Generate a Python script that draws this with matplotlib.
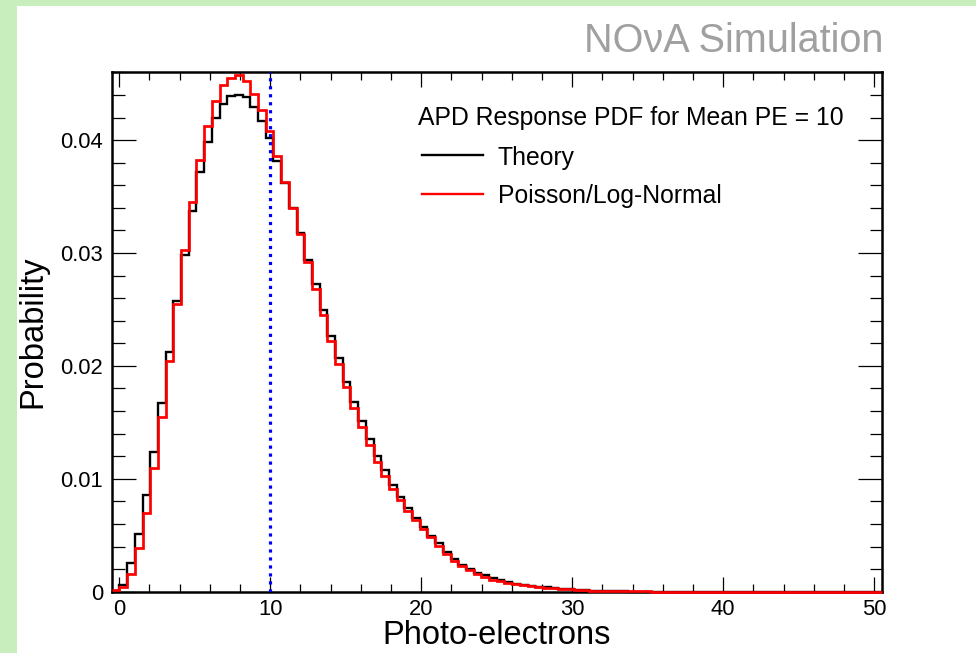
import numpy as np
import matplotlib
matplotlib.use("Agg")
import matplotlib.pyplot as plt
from matplotlib.ticker import MultipleLocator, FixedLocator, FixedFormatter
from matplotlib.patches import Rectangle
from matplotlib.lines import Line2D

plt.rcParams['font.family'] = ['Liberation Sans', 'DejaVu Sans']

# ---------------- data ----------------
x_low, x_high, n_bins = -0.5, 50.5, 100
mean_pe = 10

theory = [
    0.0001, 0.0006, 0.00257, 0.00512, 0.00857, 0.0124, 0.01674, 0.0212, 0.02575, 0.02982,
    0.03375, 0.0372, 0.0398, 0.04193, 0.0432, 0.04393, 0.04398, 0.04379, 0.0429, 0.04172,
    0.04016, 0.03818, 0.0362, 0.034, 0.0318, 0.02938, 0.02725, 0.02495, 0.02268, 0.02067,
    0.0186, 0.01683, 0.01512, 0.01353, 0.01202, 0.01078, 0.00945, 0.00836, 0.00739, 0.0065,
    0.0057, 0.00496, 0.00434, 0.00354, 0.0029, 0.0024, 0.00205, 0.0017, 0.00145, 0.0012,
    0.00102, 0.00085, 0.00072, 0.00062, 0.00052, 0.00045, 0.00038, 0.00031, 0.00026, 0.00021,
    0.00017, 0.00013, 0.0001, 0.00007, 0.00005, 0.00003, 0.00002, 0.00001, 0, 0,
    0, 0, 0, 0, 0, 0, 0, 0, 0, 0,
    0, 0, 0, 0, 0, 0, 0, 0, 0, 0,
    0, 0, 0, 0, 0, 0, 0, 0, 0, 0,
]

poisson_lognormal = [
    0.00015, 0.0004, 0.00155, 0.00384, 0.0070, 0.01093, 0.0155, 0.02043, 0.02545, 0.03027,
    0.03454, 0.0382, 0.04125, 0.04349, 0.04488, 0.04553, 0.04577, 0.04523, 0.04406, 0.04264,
    0.0408, 0.03859, 0.03632, 0.03396, 0.03165, 0.02923, 0.02678, 0.02451, 0.02223, 0.02017,
    0.01816, 0.01624, 0.01456, 0.0130, 0.01151, 0.01025, 0.00907, 0.00808, 0.00712, 0.00632,
    0.00553, 0.00482, 0.00405, 0.00338, 0.00275, 0.00225, 0.00188, 0.00155, 0.0013, 0.00108,
    0.00092, 0.00078, 0.00066, 0.00057, 0.00049, 0.00042, 0.00035, 0.00029, 0.00024, 0.0002,
    0.00016, 0.00013, 0.0001, 0.00008, 0.00006, 0.00005, 0.00004, 0.00003, 0.00002, 0.00002,
    0.00001, 0, 0, 0, 0, 0, 0, 0, 0, 0,
    0, 0, 0, 0, 0, 0, 0, 0, 0, 0,
    0, 0, 0, 0, 0, 0, 0, 0, 0, 0,
]

series_labels = ["Theory", "Poisson/Log-Normal"]
legend_header = "APD Response PDF for Mean PE = 10"
x_title = "Photo-electrons"
y_title = "Probability"
corner_label = "NO\u03bdA Simulation"

xticks = [0, 10, 20, 30, 40, 50]
xtick_labels = ["0", "10", "20", "30", "40", "50"]
yticks = [0, 0.01, 0.02, 0.03, 0.04]
ytick_labels = ["0", "0.01", "0.02", "0.03", "0.04"]
y_max = 0.04606

# ---------------- figure ----------------
W, H = 976, 653
fig = plt.figure(figsize=(W / 100, H / 100), dpi=100, facecolor="white")

green = "#c8eebe"
fig.patches.append(Rectangle((0, 0), 17 / W, 1, transform=fig.transFigure,
                             facecolor=green, edgecolor="none", zorder=0))
fig.patches.append(Rectangle((0, 1 - 5.5 / H), 1, 5.5 / H, transform=fig.transFigure,
                             facecolor=green, edgecolor="none", zorder=0))

left, right, top, bottom = 111.7, 881.7, 71.7, 591.7
ax = fig.add_axes([left / W, 1 - bottom / H, (right - left) / W, (bottom - top) / H])
ax.set_facecolor("none")

edges = np.linspace(x_low, x_high, n_bins + 1)
ax.stairs(theory, edges, color="black", linewidth=1.7, baseline=None, zorder=3,
          clip_on=False)
ax.stairs(poisson_lognormal, edges, color="#ff0000", linewidth=1.95, baseline=None,
          zorder=4, clip_on=False)
ax.axvline(mean_pe, color="#0000ff", linewidth=2.3, linestyle=(0, (1.0, 1.5)), zorder=5)

ax.set_xlim(x_low, x_high)
ax.set_ylim(0, y_max)

ax.xaxis.set_major_locator(FixedLocator(xticks))
ax.xaxis.set_major_formatter(FixedFormatter(xtick_labels))
ax.xaxis.set_minor_locator(MultipleLocator(2))
ax.yaxis.set_major_locator(FixedLocator(yticks))
ax.yaxis.set_major_formatter(FixedFormatter(ytick_labels))
ax.yaxis.set_minor_locator(MultipleLocator(0.002))

ax.tick_params(which="both", direction="in", top=True, right=True,
               width=0.9, colors="black", labelsize=15.8)
ax.tick_params(axis="x", which="major", length=11, pad=5)
ax.tick_params(axis="x", which="minor", length=5.5)
ax.tick_params(axis="y", which="major", length=17.5, pad=6)
ax.tick_params(axis="y", which="minor", length=9)

for s in ax.spines.values():
    s.set_linewidth(1.8)

ax.set_xlabel(x_title, fontsize=23.5, va="center")
ax.xaxis.set_label_coords(0.5, (bottom - 636) / (bottom - top))
ax.set_ylabel(y_title, fontsize=23.5, va="center")
ax.yaxis.set_label_coords((33 - left) / (right - left), 0.5)

# legend (manual, ROOT-like)
def ax_x(px):
    return (px - left) / (right - left)

def ax_y(py):
    return (bottom - py) / (bottom - top)

ax.text(ax_x(418), ax_y(116), legend_header, fontsize=17.8, ha="left",
        va="center_baseline", transform=ax.transAxes)
for lab, col, py, lw in [(series_labels[0], "black", 155, 1.7),
                         (series_labels[1], "#ff0000", 194, 1.7)]:
    ax.add_line(Line2D([ax_x(422), ax_x(483)], [ax_y(py), ax_y(py)], color=col,
                       linewidth=lw, transform=ax.transAxes))
    ax.text(ax_x(498), ax_y(py), lab, fontsize=17.8, ha="left",
            va="center_baseline", transform=ax.transAxes)

fig.text(883 / W, 1 - 52 / H, corner_label, fontsize=28.5, color="#a0a0a0",
         ha="right", va="baseline")

fig.savefig("out.png", dpi=100)
